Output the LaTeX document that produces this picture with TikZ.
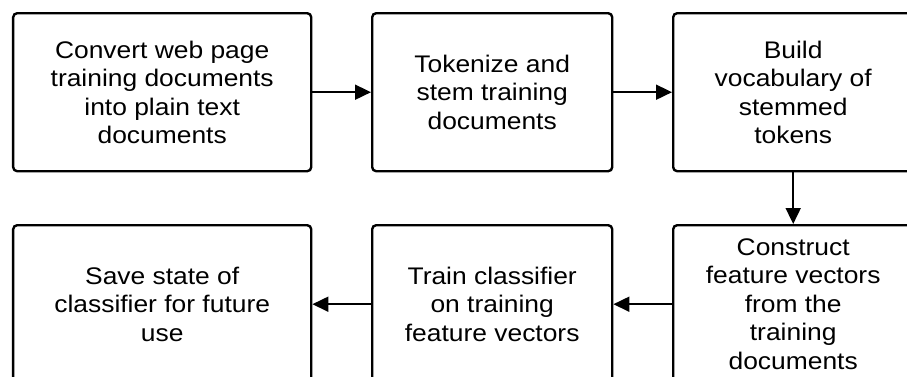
\documentclass[tikz,border=0pt]{standalone}
\usepackage{fontspec}
\setmainfont{Liberation Sans}[FakeStretch=1.1]
\usetikzlibrary{arrows.meta,matrix}

\tikzset{
stepbox/.style={draw,rounded corners=4pt,line width=2.4pt,
align=center,inner sep=0pt,minimum height=158pt,
font=\fontsize{24}{28.5}\selectfont},
widebox/.style={stepbox,minimum width=298pt},
narrowbox/.style={stepbox,minimum width=240pt},
flow/.style={line width=1.8pt,-{Triangle[length=16pt,width=15pt]}}
}

\begin{document}
\begin{tikzpicture}[x=1pt,y=-1pt]
\path[use as bounding box,clip] (0,0) rectangle (907,376);
\matrix[anchor=north west,column sep=58.6pt,row sep=51.6pt,inner sep=0pt] at (11.8,11.8)
{
\node[widebox] (convert) {Convert web page\\training documents\\into plain text\\documents}; &
\node[narrowbox] (tokenize) {Tokenize and\\stem training\\documents}; &
\node[narrowbox] (vocab) {Build\\vocabulary of\\stemmed\\tokens}; \\
\node[widebox] (save) {Save state of\\classifier for future\\use}; &
\node[narrowbox] (train) {Train classifier\\on training\\feature vectors}; &
\node[narrowbox] (features) {Construct\\feature vectors\\from the\\training\\documents}; \\
};
\draw[flow] (convert) -- (tokenize);
\draw[flow] (tokenize) -- (vocab);
\draw[flow] (vocab) -- (features);
\draw[flow] (features) -- (train);
\draw[flow] (train) -- (save);
\end{tikzpicture}
\end{document}
